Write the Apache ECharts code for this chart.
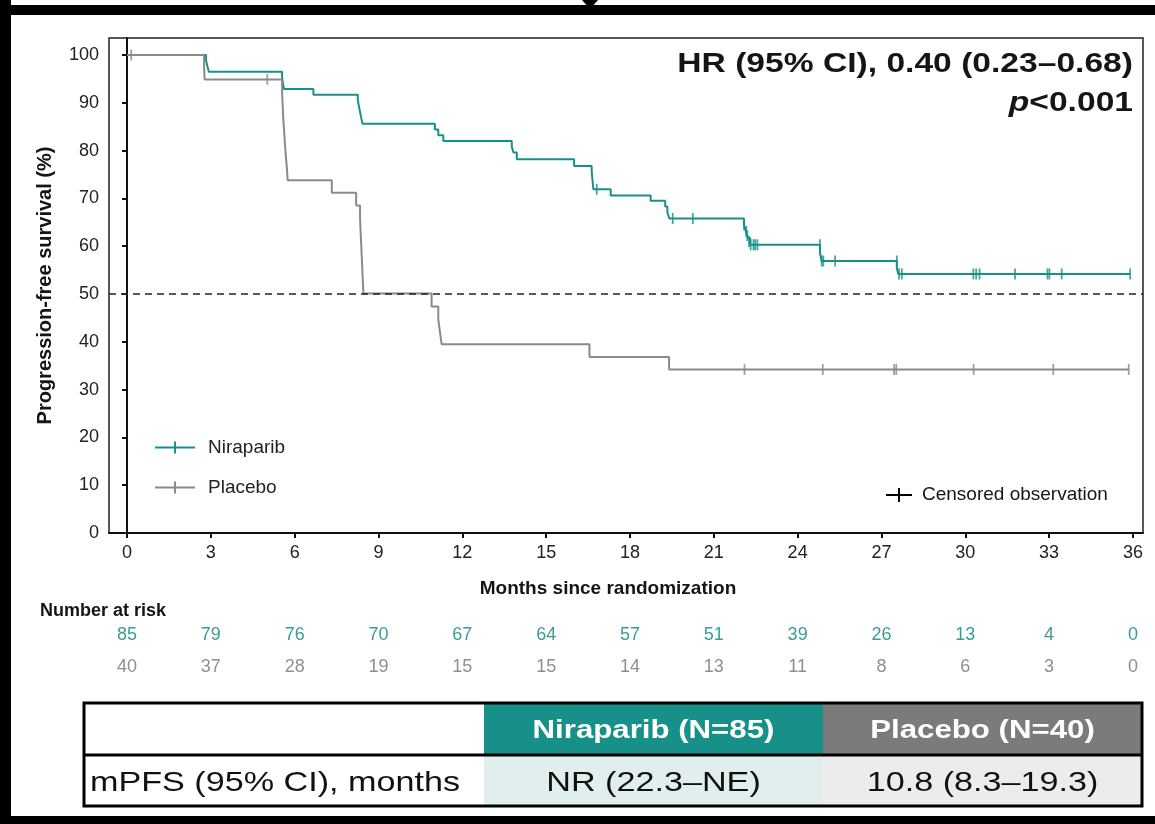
<!DOCTYPE html>
<html><head><meta charset="utf-8">
<script src="https://cdn.jsdelivr.net/npm/echarts@6/dist/echarts.min.js"></script>
<style>html,body{margin:0;padding:0;background:#fff}#c{width:1155px;height:824px}</style>
</head><body><div id="c"></div><script>
// ---- data ----
const xTicks = [0,3,6,9,12,15,18,21,24,27,30,33,36];
const yTicks = [0,10,20,30,40,50,60,70,80,90,100];
const nirRisk = [85,79,76,70,67,64,57,51,39,26,13,4,0];
const plaRisk = [40,37,28,19,15,15,14,13,11,8,6,3,0];
const nirCurve = [[0,100],[2.83,98.8],[2.88,97.6],[2.93,96.5],[5.55,95.3],[5.58,94.1],[5.62,92.9],[6.67,91.7],
  [8.26,90.5],[8.30,89.3],[8.34,88.1],[8.38,86.9],[8.43,85.6],[11.02,84.4],[11.14,83.2],[11.32,82.0],
  [13.77,80.8],[13.83,79.6],[13.95,78.2],[16.00,76.8],[16.63,75.6],[16.65,74.4],[16.67,73.1],[16.69,71.9],
  [17.31,70.6],[18.74,69.5],[19.26,68.3],[19.34,67.0],[19.41,65.8],[22.08,64.5],[22.15,63.1],[22.22,61.7],
  [22.30,60.3],[24.80,58.6],[24.86,56.9],[27.55,55.5],[27.60,54.2],[35.90,54.2]];
const nirCensor = [[16.81,71.9],[19.53,65.8],[20.25,65.8],[22.08,64.5],[22.16,63.1],[22.20,62.2],[22.26,61.0],
  [22.32,60.3],[22.42,60.3],[22.48,60.3],[22.56,60.3],[24.80,60.3],[24.86,56.9],[24.92,56.9],[25.34,56.9],
  [27.55,56.9],[27.63,54.2],[27.73,54.2],[30.29,54.2],[30.39,54.2],[30.51,54.2],[31.78,54.2],[32.94,54.2],
  [33.01,54.2],[33.45,54.2],[35.90,54.2]];
const plaCurve = [[0,100],[2.76,97.4],[2.78,94.9],[5.55,92.2],[5.57,89.6],[5.59,87.0],[5.62,84.4],[5.65,81.7],
  [5.68,79.1],[5.72,76.5],[5.75,73.8],[7.33,71.2],[8.20,68.5],[8.34,65.9],[8.36,63.2],[8.38,60.6],[8.40,58.0],
  [8.42,55.3],[8.44,52.7],[8.46,50.1],[10.90,47.4],[11.14,44.7],[11.20,42.1],[11.26,39.5],[16.55,36.8],
  [19.40,34.2],[35.85,34.2]];
const plaCensor = [[0.15,100],[5.02,94.9],[22.10,34.2],[24.90,34.2],[27.45,34.2],[27.53,34.2],[30.30,34.2],
  [33.15,34.2],[35.85,34.2]];
const tableHeader = ['', 'Niraparib (N=85)', 'Placebo (N=40)'];
const tableRow = ['mPFS (95% CI), months', 'NR (22.3\u2013NE)', '10.8 (8.3\u201319.3)'];
const hrText = 'HR (95% CI), 0.40 (0.23\u20130.68)';
const pText = '<0.001';

// ---- style ----
const FF = '"Liberation Sans", Arial, sans-serif';
const TEAL = '#17908a', GRAY = '#8a8a8a', INK = '#151515';
const chart = echarts.init(document.getElementById('c'), null, {renderer:'canvas'});
const xBase = {type:'value', min:-0.644, max:36.36, gridIndex:0, splitLine:{show:false}};
const riskAxis = (vals, off, color) => Object.assign({}, xBase, {
  position:'bottom', offset:off, axisLine:{show:false}, axisTick:{show:false},
  axisLabel:{customValues:xTicks, formatter:v => String(vals[Math.round(v/3)]), margin:8,
    fontSize:18, fontFamily:FF, color:color}
});

function txt(x, y, text, o) {
  o = o || {};
  return {type:'text', x:x, y:y, scaleX:o.sx||1, z:10, style:{text:text, align:o.align||'left',
    verticalAlign:'middle', fontSize:o.size||18, fontWeight:o.bold?'bold':'normal', fontFamily:FF,
    fill:o.color||INK, rich:o.rich}};
}
const T = {l:84, r:1142, t:703, m:755, b:806, c1:484, c2:823};
const graphic = [
  // outer frame
  {type:'rect', shape:{x:0,y:0,width:11,height:824}, style:{fill:'#000'}},
  {type:'rect', shape:{x:0,y:5,width:1155,height:10}, style:{fill:'#000'}},
  {type:'rect', shape:{x:0,y:816,width:1155,height:8}, style:{fill:'#000'}},
  {type:'polygon', shape:{points:[[582,0],[598,0],[590,9]]}, style:{fill:'#000'}},
  // titles
  txt(608, 589, 'Months since randomization', {bold:true, size:19, align:'center'}),
  txt(40, 611, 'Number at risk', {bold:true}),
  txt(1133, 64, hrText, {bold:true, size:28, align:'right', sx:1.2}),
  txt(1133, 103, '{i|p}' + pText, {bold:true, size:28, align:'right', sx:1.2,
    rich:{i:{fontStyle:'italic', fontWeight:'bold', fontSize:28, fontFamily:FF, fill:INK}}}),
  // censored observation key
  {type:'line', shape:{x1:886,y1:495,x2:912,y2:495}, style:{stroke:'#000', lineWidth:2}},
  {type:'line', shape:{x1:899,y1:488,x2:899,y2:502}, style:{stroke:'#000', lineWidth:2}},
  txt(922, 495, 'Censored observation', {size:19}),
  // table
  {type:'rect', shape:{x:T.c1,y:T.t,width:T.c2-T.c1,height:T.m-T.t}, style:{fill:TEAL}},
  {type:'rect', shape:{x:T.c2,y:T.t,width:T.r-T.c2,height:T.m-T.t}, style:{fill:'#7b7b7b'}},
  {type:'rect', shape:{x:T.c1,y:T.m,width:T.c2-T.c1,height:T.b-T.m}, style:{fill:'#e1eeee'}},
  {type:'rect', shape:{x:T.c2,y:T.m,width:T.r-T.c2,height:T.b-T.m}, style:{fill:'#ececec'}},
  {type:'line', shape:{x1:T.l,y1:T.m,x2:T.r,y2:T.m}, style:{stroke:'#000', lineWidth:3}},
  {type:'rect', shape:{x:T.l,y:T.t,width:T.r-T.l,height:T.b-T.t}, style:{fill:'none', stroke:'#000', lineWidth:3}},
  txt((T.c1+T.c2)/2, 731, tableHeader[1], {bold:true, size:26, align:'center', sx:1.2, color:'#fff'}),
  txt((T.c2+T.r)/2, 731, tableHeader[2], {bold:true, size:26, align:'center', sx:1.2, color:'#fff'}),
  txt(275, 783, tableRow[0], {size:28, align:'center', sx:1.22, color:'#111'}),
  txt((T.c1+T.c2)/2, 783, tableRow[1], {size:28, align:'center', sx:1.22, color:'#111'}),
  txt((T.c2+T.r)/2, 783, tableRow[2], {size:28, align:'center', sx:1.22, color:'#111'})
];

const option = {
  animation:false,
  backgroundColor:'#fff',
  textStyle:{fontFamily:FF},
  grid:{left:109, right:12, top:38, bottom:291, show:true, borderColor:'#222', borderWidth:1.5},
  legend:{data:['Niraparib','Placebo'], orient:'vertical', left:155, top:438, padding:0, itemWidth:40, itemHeight:12,
    itemGap:21, icon:'path://M0,5H40V7H0Z M19,0H21V12H19Z',
    textStyle:{fontSize:19, fontFamily:FF, color:'#222', padding:[0,0,0,8]}},
  xAxis:[
    Object.assign({}, xBase, {position:'bottom',
      axisLine:{show:true, onZero:false, lineStyle:{color:'#111', width:2}},
      axisTick:{show:true, customValues:xTicks, length:5, lineStyle:{color:'#111', width:2}},
      axisLabel:{customValues:xTicks, margin:11, fontSize:18, fontFamily:FF, color:'#222'}}),
    riskAxis(nirRisk, 85, '#3a9c97'),
    riskAxis(plaRisk, 117, '#8f8f8f')
  ],
  yAxis:{type:'value', min:0, max:103.56, splitLine:{show:false},
    axisLine:{show:true, lineStyle:{color:'#111', width:2}},
    axisTick:{show:true, customValues:yTicks, length:5, lineStyle:{color:'#111', width:2}},
    axisLabel:{customValues:yTicks, margin:10, fontSize:18, fontFamily:FF, color:'#222'},
    name:'Progression-free survival (%)', nameLocation:'middle', nameGap:54, nameRotate:90,
    nameTextStyle:{fontSize:20, fontWeight:'bold', fontFamily:FF, color:INK}},
  series:[
    {name:'Niraparib', type:'line', step:'end', data:nirCurve, showSymbol:false, z:3,
      lineStyle:{color:TEAL, width:2}, itemStyle:{color:TEAL},
      markLine:{silent:true, symbol:'none', label:{show:false},
        lineStyle:{color:'#222', type:[7,5], width:1.5}, data:[{yAxis:50}]}},
    {name:'Placebo', type:'line', step:'end', data:plaCurve, showSymbol:false, z:4,
      lineStyle:{color:GRAY, width:2}, itemStyle:{color:GRAY}},
    {name:'nirCens', type:'scatter', data:nirCensor, symbol:'rect', symbolSize:[1.8,11], z:5,
      itemStyle:{color:TEAL}},
    {name:'plaCens', type:'scatter', data:plaCensor, symbol:'rect', symbolSize:[1.8,11], z:5,
      itemStyle:{color:GRAY}}
  ],
  graphic:graphic
};
chart.setOption(option);
</script></body></html>
